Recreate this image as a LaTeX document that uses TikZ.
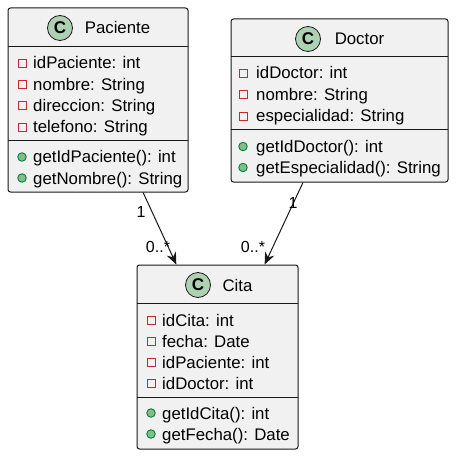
\documentclass[tikz,border=0pt]{standalone}
\usepackage{fontspec}
\setmainfont{Liberation Sans}
\usetikzlibrary{arrows.meta}
\definecolor{boxfill}{HTML}{F1F1F1}
\definecolor{boxline}{HTML}{181818}
\definecolor{spot}{HTML}{ADD1B2}
\definecolor{privline}{HTML}{C82930}
\definecolor{pubfill}{HTML}{84BE84}
\definecolor{publine}{HTML}{038048}

\tikzset{
  classbox/.style={draw=boxline, fill=boxfill, rounded corners=2.5pt, line width=1pt, inner sep=0pt},
  sepline/.style={draw=boxline, line width=1pt},
  spotc/.style={circle, draw=boxline, fill=spot, line width=0.8pt, minimum size=25pt, inner sep=0pt,
    font=\fontsize{17pt}{19pt}\selectfont\bfseries},
  title/.style={anchor=base, inner sep=0pt, font=\fontsize{16.8pt}{19pt}\selectfont},
  member/.style={anchor=base west, inner sep=0pt, font=\fontsize{16.8pt}{19pt}\selectfont},
  priv/.style={rectangle, draw=privline, line width=0.9pt, minimum size=8pt, inner sep=0pt},
  pub/.style={circle, draw=publine, fill=pubfill, line width=0.9pt, minimum size=8.5pt, inner sep=0pt},
  mult/.style={inner sep=0pt, font=\fontsize{16pt}{18pt}\selectfont},
  assoc/.style={draw=boxline, line width=1pt, -{Stealth[length=12pt,width=10pt,inset=4pt]}}
}

\begin{document}
\begin{tikzpicture}[x=1pt,y=-1pt]
      \useasboundingbox (0,0) rectangle (456,457);

      % boxes
      \path
      (98,100) node[classbox, minimum width=180pt, minimum height=184pt] (pac) {}
      (339.5,100.5) node[classbox, minimum width=217pt, minimum height=163pt] (doc) {}
      (217.5,357) node[classbox, minimum width=161pt, minimum height=184pt] (cita) {}
      ;
      \draw[sepline] (8,47) -- (188,47);
      \draw[sepline] (8,141) -- (188,141);
      \draw[sepline] (231,57) -- (448,57);
      \draw[sepline] (231,130) -- (448,130);
      \draw[sepline] (137,303) -- (298,303);
      \draw[sepline] (137,397) -- (298,397);

      % Paciente
      \path
      (60,28) node[spotc] (pacspot) {C}
      (117.5,34) node[title] (pacname) {Paciente}
      (22,63) node[priv] {}
      (22,84.3) node[priv] {}
      (22,105.6) node[priv] {}
      (22,127) node[priv] {}
      (22,157) node[pub] {}
      (22,178) node[pub] {}
      (33,69) node[member] (pacid) {idPaciente: int}
      (33,90.3) node[member] (pacnom) {nombre: String}
      (33,111.6) node[member] (pacdir) {direccion: String}
      (33,133) node[member] (pactel) {telefono: String}
      (33,163) node[member] (pacgetid) {getIdPaciente(): int}
      (33,184) node[member] (pacgetnom) {getNombre(): String}
      ;

      % Doctor
      \path
      (308,39) node[spotc] (docspot) {C}
      (359.5,45) node[title] (docname) {Doctor}
      (243,73) node[priv] {}
      (243,94.5) node[priv] {}
      (243,116) node[priv] {}
      (243,146.5) node[pub] {}
      (243,167.5) node[pub] {}
      (256,79) node[member] (docid) {idDoctor: int}
      (256,100.5) node[member] (docnom) {nombre: String}
      (256,122) node[member] (docesp) {especialidad: String}
      (256,152.5) node[member] (docgetid) {getIdDoctor(): int}
      (256,173.5) node[member] (docgetesp) {getEspecialidad(): String}
      ;

      % Cita
      \path
      (198,285) node[spotc] (citaspot) {C}
      (237.5,291) node[title] (citaname) {Cita}
      (151,320) node[priv] {}
      (151,341) node[priv] {}
      (151,362) node[priv] {}
      (151,383) node[priv] {}
      (151,413) node[pub] {}
      (151,434) node[pub] {}
      (162,326) node[member] (citaid) {idCita: int}
      (162,347) node[member] (citafecha) {fecha: Date}
      (162,368) node[member] (citapac) {idPaciente: int}
      (162,389) node[member] (citadoc) {idDoctor: int}
      (162,419) node[member] (citagetid) {getIdCita(): int}
      (162,440) node[member] (citagetfecha) {getFecha(): Date}
      ;

      % associations
      \draw[assoc] (pac.-64.4) -- (cita.114.8);
      \draw[assoc] (doc.-114.7) -- (cita.63.7);
      \path
      (141,212) node[mult] (pacone) {1}
      (158,247) node[mult] (pacmany) {0..*}
      (293,203) node[mult] (docone) {1}
      (253,247) node[mult] (docmany) {0..*}
      ;
    \end{tikzpicture}
\end{document}
